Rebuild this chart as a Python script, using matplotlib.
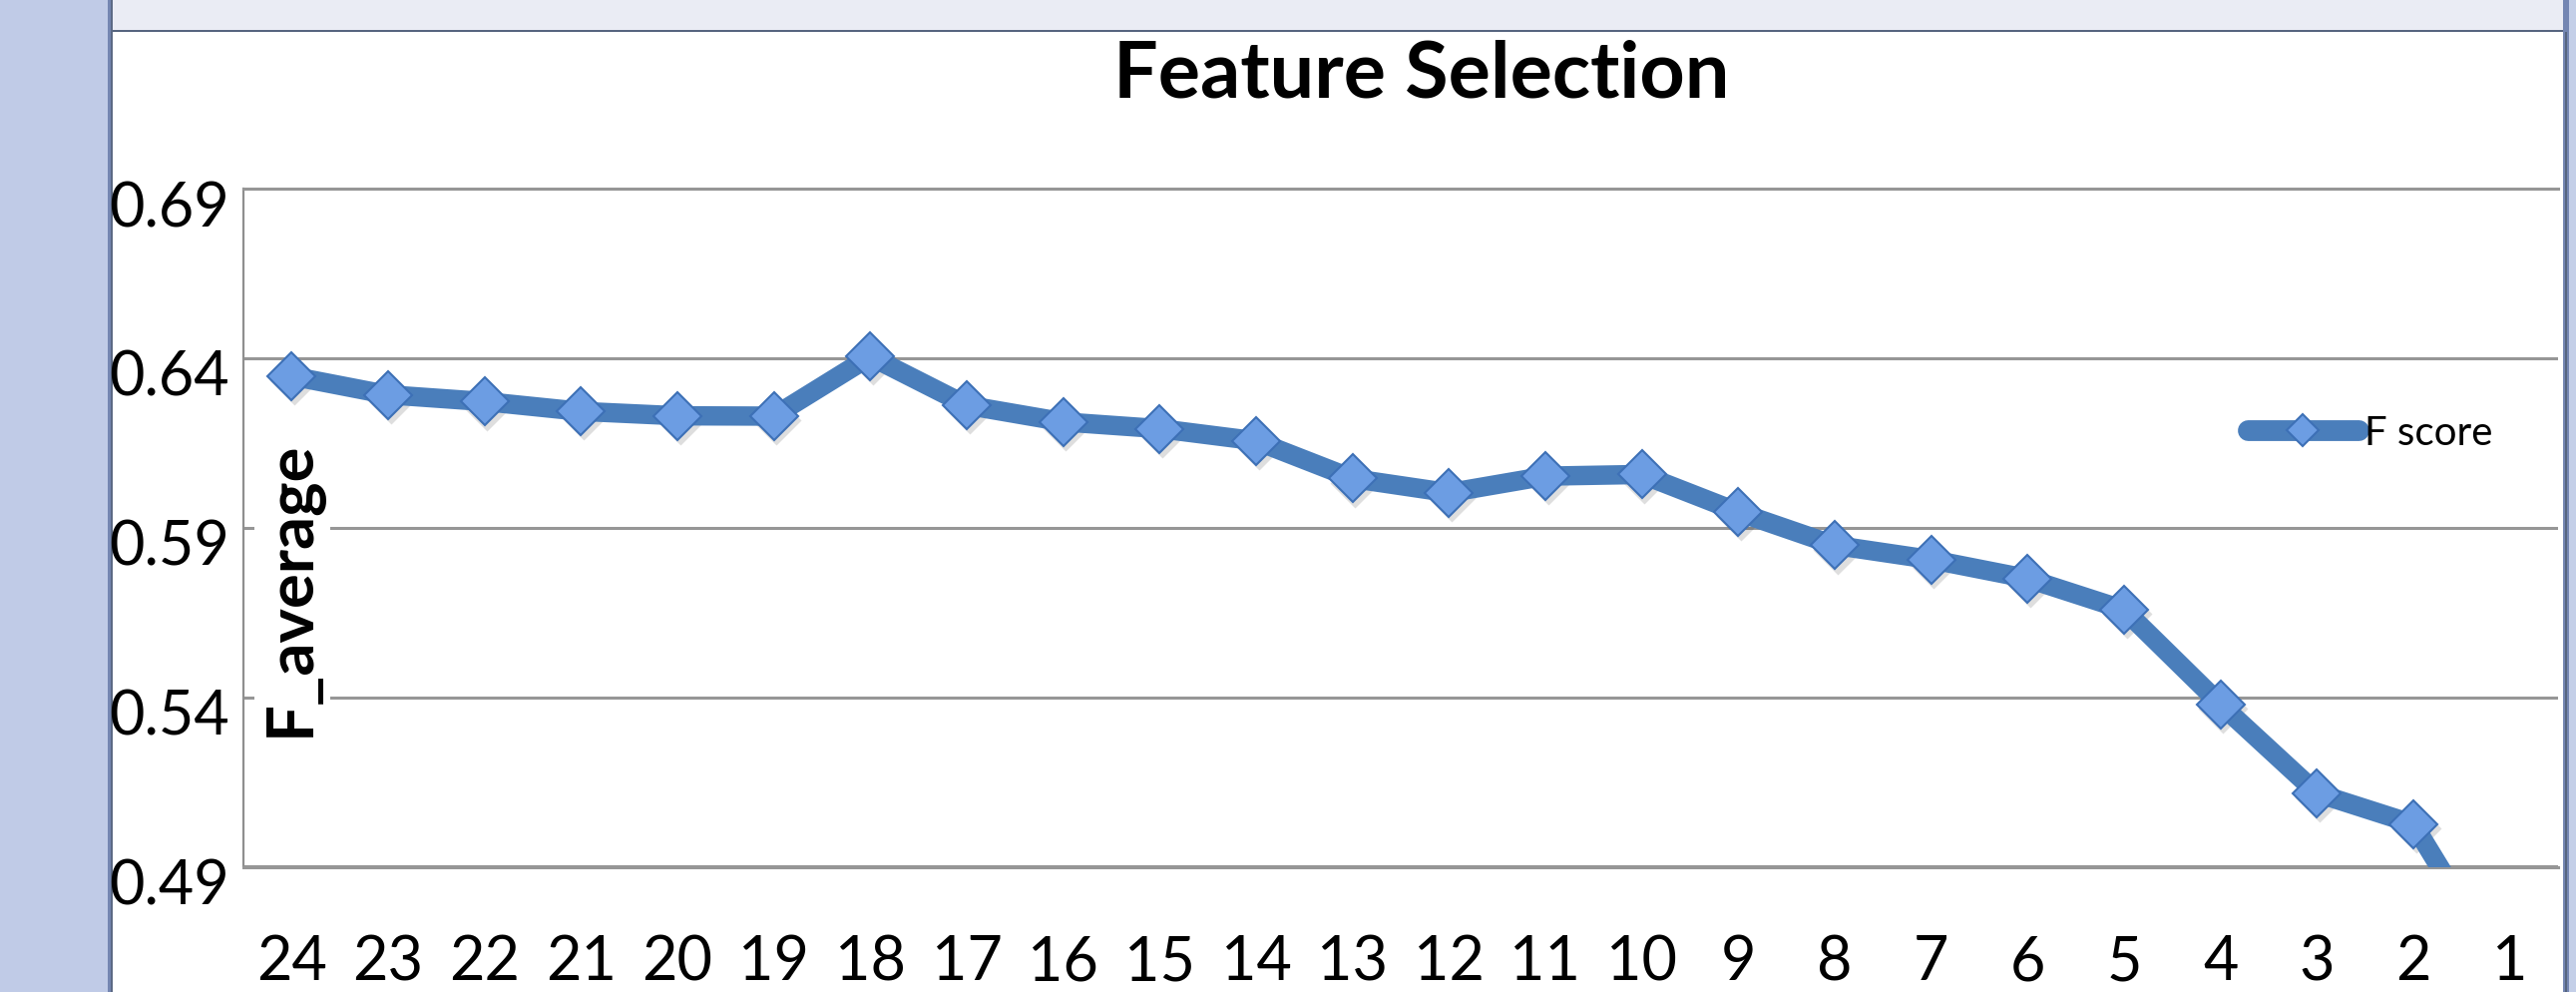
import numpy as np
import matplotlib
matplotlib.use("Agg")
import matplotlib.pyplot as plt
from matplotlib.patches import Rectangle
from matplotlib.transforms import ScaledTranslation

plt.rcParams["font.family"] = ["Lato", "DejaVu Sans"]

# number of features kept (x axis runs from 24 down to 1)
n_features = ["24", "23", "22", "21", "20", "19", "18", "17", "16", "15", "14", "13",
              "12", "11", "10", "9", "8", "7", "6", "5", "4", "3", "2", "1"]
f_score = [0.6347, 0.6292, 0.6272, 0.6243, 0.6230, 0.6229, 0.6405, 0.6261,
           0.6212, 0.6192, 0.6156, 0.6045, 0.6003, 0.6052, 0.6057, 0.5946,
           0.5848, 0.5806, 0.5750, 0.5658, 0.5379, 0.5117, 0.5026, 0.456]
y_ticks = [0.49, 0.54, 0.59, 0.64, 0.69]

W, H = 2582, 995
fig = plt.figure(figsize=(W / 100, H / 100), dpi=100)
fig.patch.set_facecolor("white")


def px_rect(x0, y0, x1, y1, color, z=0):
    # rectangle given in pixel coords (origin top-left)
    r = Rectangle((x0 / W, 1 - y1 / H), (x1 - x0) / W, (y1 - y0) / H,
                  transform=fig.transFigure, facecolor=color, edgecolor="none", zorder=z)
    fig.add_artist(r)


# window frame around the chart
px_rect(0, 0, 108, H, "#c0cbe7")
px_rect(108, 0, 111, H, "#7486b2")
px_rect(111, 0, 113, H, "#5b6985")
px_rect(113, 0, 2569, 31, "#eaecf4")
px_rect(113, 31, 2573, 33, "#56657f")
px_rect(2569, 0, 2575, H, "#7486b2")
px_rect(2571, 33, 2573, H, "#56657f")
px_rect(2575, 0, W, H, "#c4cfe8")

ax = fig.add_axes([244 / W, 1 - 869.5 / H, (2564 - 244) / W, (869.5 - 190) / H])
ax.set_facecolor("none")

x = np.arange(len(n_features))
line_c = "#4a7ebb"

# soft marker shadow
shadow = ax.transData + ScaledTranslation(2 / 72, -3 / 72, fig.dpi_scale_trans)
ax.plot(x, f_score, ls="none", marker="D", ms=25, mfc="black", mec="none",
        alpha=0.13, transform=shadow, zorder=2)
ax.plot(x, f_score, color=line_c, lw=14, marker="D", ms=24,
        mfc="#6c9de3", mec="#3d70b6", mew=1.5, label="F score",
        solid_joinstyle="round", zorder=3)

ax.set_xlim(-0.5, len(n_features) - 0.5)
ax.set_ylim(0.49, 0.69)
ax.set_xticks(x, n_features)
ax.set_yticks(y_ticks, [f"{v:.2f}" for v in y_ticks])
ax.tick_params(axis="both", length=0, labelsize=44, colors="black")
ax.tick_params(axis="x", pad=48)
ax.tick_params(axis="y", pad=10)
for lab in ax.get_yticklabels():
    lab.set_transform(lab.get_transform() + ScaledTranslation(0, -14 / 100, fig.dpi_scale_trans))

ax.set_axisbelow(True)
ax.yaxis.grid(True, color="#969696", lw=2.2)
for side in ["top", "bottom"]:
    ax.spines[side].set_color("#969696")
    ax.spines[side].set_linewidth(2.2)
ax.spines["right"].set_visible(False)
ax.spines["left"].set_color("#8f8f8f")
ax.spines["left"].set_linewidth(1.6)

ax.text((293 - 244) / 2320, (869.5 - 590) / 679.5, "F_average", transform=ax.transAxes,
        rotation=90, ha="center", va="center", fontsize=47, fontweight="bold",
        bbox=dict(boxstyle="square,pad=0.12", fc="white", ec="none"), zorder=1.5)

fig.text(1425 / W, 1 - 76 / H, "Feature Selection", ha="center", va="center",
         fontsize=57, fontweight="bold")

leg = ax.legend(loc="center left", bbox_to_anchor=(2253 / W, 1 - 435 / H),
                bbox_transform=fig.transFigure, frameon=False, fontsize=29,
                handlelength=2.75, handletextpad=0.15, borderpad=0, borderaxespad=0)
for h in leg.legend_handles:
    h.set_markersize(16)
    h.set_linewidth(15)
    h.set_solid_capstyle("round")

fig.savefig("out.png", dpi=100)
